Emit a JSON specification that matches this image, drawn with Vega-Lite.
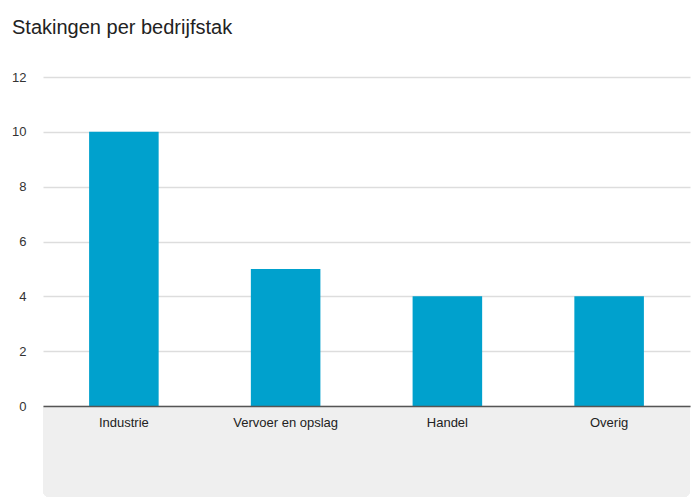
{
  "$schema": "https://vega.github.io/schema/vega-lite/v6.json",
  "autosize": "none",
  "width": 647,
  "height": 329,
  "padding": {"left": 43, "top": 77, "right": 10, "bottom": 94},
  "background": "white",
  "title": {
    "text": "Stakingen per bedrijfstak",
    "anchor": "start",
    "frame": "group",
    "dx": -31,
    "offset": 33,
    "font": "Liberation Sans",
    "fontSize": 20,
    "fontWeight": "normal",
    "color": "#222222"
  },
  "config": {
    "view": {"stroke": null},
    "font": "Liberation Sans"
  },
  "data": {
    "values": [
      {"bedrijfstak": "Industrie", "stakingen": 10},
      {"bedrijfstak": "Vervoer en opslag", "stakingen": 5},
      {"bedrijfstak": "Handel", "stakingen": 4},
      {"bedrijfstak": "Overig", "stakingen": 4}
    ]
  },
  "layer": [
    {
      "mark": {"type": "rect", "color": "#efefef", "clip": false, "cornerRadiusBottomLeft": 6, "cornerRadiusBottomRight": 6},
      "encoding": {
        "y": {
          "datum": -3.32,
          "type": "quantitative",
          "scale": {"domain": [0, 12], "nice": false},
          "axis": {
            "title": null,
            "values": [0, 2, 4, 6, 8, 10, 12],
            "grid": true,
            "domain": false,
            "ticks": false,
            "labelPadding": 17,
            "labelFontSize": 13,
            "labelColor": "#333333",
            "gridColor": "#dddddd",
            "gridWidth": 1.5
          }
        },
        "y2": {"datum": 0}
      }
    },
    {
      "mark": {"type": "bar", "color": "#00a1cd"},
      "encoding": {
        "x": {
          "field": "bedrijfstak",
          "type": "nominal",
          "sort": null,
          "scale": {"paddingInner": 0.57, "paddingOuter": 0.285},
          "axis": {
            "title": null,
            "labelAngle": 0,
            "labelFontSize": 13,
            "labelColor": "#222222",
            "labelPadding": 10,
            "ticks": false,
            "domainColor": "#555555",
            "domainWidth": 1.5,
            "zindex": 1
          }
        },
        "y": {
          "field": "stakingen",
          "type": "quantitative",
          "scale": {"domain": [0, 12], "nice": false},
          "axis": {
            "title": null,
            "values": [0, 2, 4, 6, 8, 10, 12],
            "grid": true,
            "domain": false,
            "ticks": false,
            "labelPadding": 17,
            "labelFontSize": 13,
            "labelColor": "#333333",
            "gridColor": "#dddddd",
            "gridWidth": 1.5
          }
        }
      }
    }
  ]
}
